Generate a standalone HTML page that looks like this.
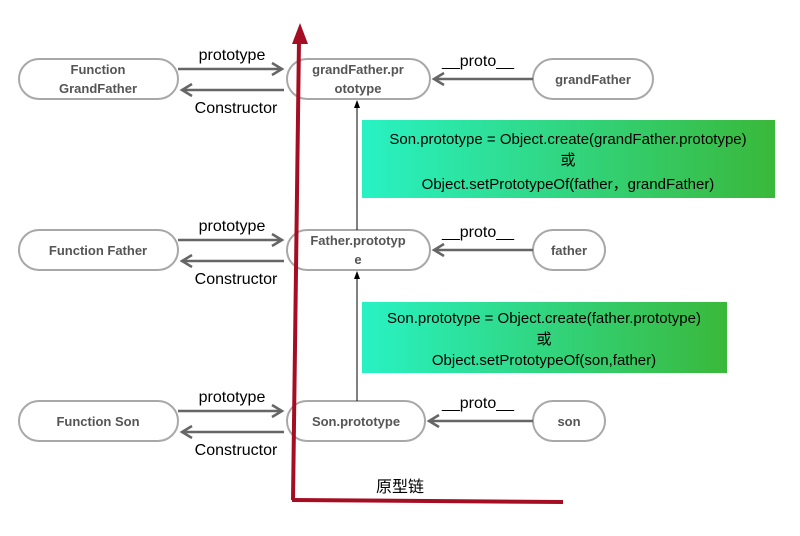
<!DOCTYPE html>
<html><head><meta charset="utf-8"><style>body{margin:0;background:#fff}svg{display:block}</style></head><body>
<svg width="800" height="536" viewBox="0 0 800 536" xmlns="http://www.w3.org/2000/svg" font-family="Liberation Sans, sans-serif">
<defs>
<linearGradient id="g" x1="0" x2="1" y1="0" y2="0"><stop offset="0" stop-color="#28f2c4"/><stop offset="1" stop-color="#3ab83a"/></linearGradient>
</defs>
<g fill="#fff" stroke="#a8a8a8" stroke-width="2">
<rect x="19" y="59" width="159" height="40" rx="20"/>
<rect x="287" y="59" width="143" height="40" rx="20"/>
<rect x="533" y="59" width="120" height="40" rx="20"/>
<rect x="19" y="230" width="159" height="40" rx="20"/>
<rect x="287" y="230" width="143" height="40" rx="20"/>
<rect x="533" y="230" width="72" height="40" rx="20"/>
<rect x="19" y="401" width="159" height="40" rx="20"/>
<rect x="287" y="401" width="138" height="40" rx="20"/>
<rect x="533" y="401" width="72" height="40" rx="20"/>
</g>
<g font-weight="bold" font-size="13" fill="#555" text-anchor="middle">
<text x="98" y="74">Function</text><text x="98" y="93">GrandFather</text>
<text x="358" y="74">grandFather.pr</text><text x="358" y="93">ototype</text>
<text x="593" y="84">grandFather</text>
<text x="98" y="255">Function  Father</text>
<text x="358" y="245">Father.prototyp</text><text x="358" y="264">e</text>
<text x="569" y="255">father</text>
<text x="98" y="426">Function  Son</text>
<text x="356" y="426">Son.prototype</text>
<text x="569" y="426">son</text>
</g>
<g stroke="#666" stroke-width="2.5" fill="none">
<path d="M178 69H282M272 63l10 6-10 6"/><path d="M284 90H182M192 84l-10 6 10 6"/>
<path d="M178 240H282M272 234l10 6-10 6"/><path d="M284 261H182M192 255l-10 6 10 6"/>
<path d="M178 411H282M272 405l10 6-10 6"/><path d="M284 432H182M192 426l-10 6 10 6"/>
<path d="M533 79H434M444 73l-10 6 10 6"/>
<path d="M533 250H434M444 244l-10 6 10 6"/>
<path d="M533 421H429M439 415l-10 6 10 6"/>
</g>
<g font-size="16" fill="#000" text-anchor="middle">
<text x="232" y="60">prototype</text><text x="236" y="113">Constructor</text>
<text x="232" y="231">prototype</text><text x="236" y="284">Constructor</text>
<text x="232" y="402">prototype</text><text x="236" y="455">Constructor</text>
<text x="478" y="66">__proto__</text><text x="478" y="237">__proto__</text><text x="478" y="408">__proto__</text>
</g>
<g stroke="#000" stroke-width="1"><path d="M357 230V106"/><path d="M357 401V277"/></g>
<path d="M357 100l-3 8h6z M357 271l-3 8h6z" fill="#000"/>
<rect x="362" y="120" width="413" height="78" fill="url(#g)"/>
<rect x="362" y="302" width="365" height="71" fill="url(#g)"/>
<g font-size="15" fill="#000" text-anchor="middle" font-family="Liberation Sans, Noto Sans CJK SC, sans-serif">
<text x="568" y="144">Son.prototype = Object.create(grandFather.prototype)</text>
<text x="568" y="165">或</text>
<text x="568" y="189">Object.setPrototypeOf(father，grandFather)</text>
<text x="544" y="323">Son.prototype = Object.create(father.prototype)</text>
<text x="544" y="344">或</text>
<text x="544" y="365">Object.setPrototypeOf(son,father)</text>
<text x="400" y="492" font-size="16">原型链</text>
</g>
<g stroke="#a50e22" stroke-width="4" fill="none"><path d="M293 500L299 40"/><path d="M292 500L563 502"/></g>
<path d="M300 23L292 44L308 44Z" fill="#a50e22"/>
</svg>
</body></html>
